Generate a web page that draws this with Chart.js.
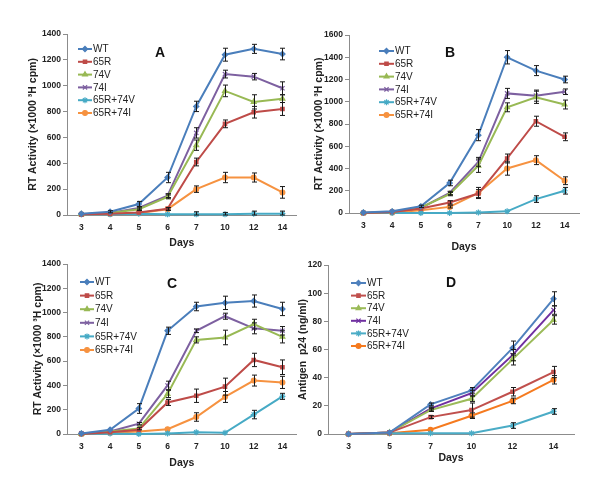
<!DOCTYPE html>
<html>
<head>
<meta charset="utf-8">
<script src="https://cdn.jsdelivr.net/npm/chart.js@4.4.0/dist/chart.umd.min.js"></script>
<style>
body { margin: 0; background: #fff; }
#page { position: relative; width: 600px; height: 497px; overflow: hidden; background: #fff; }
.panel { position: absolute; }
</style>
</head>
<body>
<div id="page">
	<div class="panel" style="left:0px;top:0px"><canvas id="chartA" width="302" height="250"></canvas></div>
	<div class="panel" style="left:300px;top:0px"><canvas id="chartB" width="300" height="255"></canvas></div>
	<div class="panel" style="left:0px;top:245px"><canvas id="chartC" width="302" height="230"></canvas></div>
	<div class="panel" style="left:295px;top:245px"><canvas id="chartD" width="300" height="230"></canvas></div>
</div>
<script>
// categories
const daysRT = ["3", "4", "5", "6", "7", "10", "12", "14"];
const daysP24 = ["3", "5", "7", "10", "12", "14"];
const seriesNames = ["WT", "65R", "74V", "74I", "65R+74V", "65R+74I"];

// panel A - RT activity
const aWT = [10, 25, 85, 290, 840, 1240, 1285, 1245];
const a65R = [5, 10, 20, 48, 410, 705, 795, 820];
const a74V = [5, 15, 45, 140, 540, 960, 875, 900];
const a74I = [5, 15, 55, 150, 635, 1090, 1070, 980];
const a65R74V = [5, 5, 10, 5, 5, 5, 10, 10];
const a65R74I = [5, 8, 15, 45, 200, 290, 290, 175];
const aWTErr = [5, 8, 20, 40, 40, 50, 35, 45];
const a65RErr = [3, 5, 5, 10, 30, 30, 45, 50];
const a74VErr = [3, 5, 10, 15, 40, 45, 55, 30];
const a74IErr = [3, 5, 10, 15, 40, 30, 25, 50];
const a65R74VErr = [3, 3, 5, 5, 20, 15, 20, 20];
const a65R74IErr = [3, 3, 5, 10, 25, 40, 35, 45];

// panel B - RT activity
const bWT = [5, 15, 60, 270, 700, 1400, 1280, 1200];
const b65R = [0, 10, 40, 95, 175, 490, 825, 685];
const b74V = [0, 10, 50, 170, 425, 950, 1040, 975];
const b74I = [0, 10, 45, 180, 460, 1075, 1055, 1090];
const b65R74V = [0, 0, 0, 0, 5, 15, 125, 200];
const b65R74I = [0, 5, 25, 55, 180, 400, 475, 290];
const bWTErr = [3, 5, 10, 25, 50, 60, 45, 30];
const b65RErr = [3, 5, 8, 15, 35, 40, 45, 35];
const b74VErr = [3, 5, 8, 15, 60, 40, 55, 40];
const b74IErr = [3, 5, 8, 15, 40, 45, 50, 25];
const b65R74VErr = [2, 2, 2, 2, 5, 5, 30, 30];
const b65R74IErr = [2, 3, 5, 10, 50, 60, 40, 35];

// panel C - RT activity
const cWT = [5, 35, 210, 850, 1050, 1080, 1095, 1030];
const c65R = [0, 15, 35, 260, 315, 390, 610, 550];
const c74V = [0, 20, 45, 330, 775, 795, 905, 800];
const c74I = [5, 20, 85, 400, 850, 970, 870, 850];
const c65R74V = [0, 5, 0, 5, 15, 10, 160, 310];
const c65R74I = [0, 10, 20, 40, 140, 305, 440, 425];
const cWTErr = [5, 8, 40, 30, 35, 55, 50, 55];
const c65RErr = [3, 5, 8, 25, 55, 70, 55, 60];
const c74VErr = [3, 5, 10, 30, 25, 60, 40, 50];
const c74IErr = [3, 5, 10, 35, 15, 25, 45, 35];
const c65R74VErr = [2, 2, 2, 3, 5, 5, 35, 25];
const c65R74IErr = [2, 3, 5, 8, 35, 45, 45, 50];

// panel D - antigen p24
const dWT = [0, 1, 21, 31, 61, 96];
const d65R = [0, 1, 12, 17, 30, 44];
const d74V = [0, 1, 17, 25, 53, 81];
const d74I = [0, 1, 18, 29, 56, 88];
const d65R74V = [0, 0.5, 0.5, 0.5, 6, 16];
const d65R74I = [0, 0.5, 3, 13, 23.5, 38.5];
const dWTErr = [0.3, 0.5, 1, 2, 5, 5];
const d65RErr = [0.3, 0.5, 1, 5, 3, 4];
const d74VErr = [0.3, 0.5, 1, 2, 4, 3];
const d74IErr = [0.3, 0.5, 1, 2, 4, 3];
const d65R74VErr = [0.2, 0.2, 0.3, 0.5, 2, 2];
const d65R74IErr = [0.2, 0.3, 0.5, 2, 2, 3];

const rtColors = ["#4A7EBB", "#BE4B48", "#98B954", "#7D60A0", "#46AAC5", "#F69240"];
const p24Colors = ["#4F81BD", "#C0504D", "#9BBB59", "#7030A0", "#4BACC6", "#F57A1F"];
const markers = ["rectRot", "rect", "triangle", "crossRot", "star", "circle"];
const markerSizes = [2.6, 2.4, 2.8, 3, 3, 2.4];

const FONT = "'Liberation Sans', Arial, sans-serif";
const LEGEND_FONT = "'Liberation Sans Narrow', 'Liberation Sans', Arial, sans-serif";

// draws the error bars from each dataset's err array
const errorBars = {
	id: "errorBars",
	afterDatasetsDraw(chart) {
		const ctx = chart.ctx;
		const yScale = chart.scales.y;
		ctx.save();
		ctx.strokeStyle = "#1a1a1a";
		ctx.lineWidth = 1;
		chart.data.datasets.forEach((ds, i) => {
			const meta = chart.getDatasetMeta(i);
			meta.data.forEach((pt, j) => {
				const v = ds.data[j];
				const e = ds.err[j];
				const yTop = yScale.getPixelForValue(v + e);
				const yBot = yScale.getPixelForValue(Math.max(v - e, yScale.min));
				if (yBot - yTop < 2) return;
				const x = Math.round(pt.x) + 0.5;
				ctx.beginPath();
				ctx.moveTo(x, yTop);
				ctx.lineTo(x, yBot);
				ctx.moveTo(x - 2.5, yTop);
				ctx.lineTo(x + 2.5, yTop);
				ctx.moveTo(x - 2.5, yBot);
				ctx.lineTo(x + 2.5, yBot);
				ctx.stroke();
			});
		});
		ctx.restore();
	},
};

// legend inside the plot, plus the panel letter
const insideLegend = {
	id: "insideLegend",
	afterDraw(chart, args, opts) {
		const ctx = chart.ctx;
		const area = chart.chartArea;
		ctx.save();
		chart.data.datasets.forEach((ds, i) => {
			const y = area.top + opts.top + i * opts.step;
			const x0 = area.left + opts.left;
			const x1 = x0 + opts.len;
			ctx.strokeStyle = ds.borderColor;
			ctx.fillStyle = ds.borderColor;
			ctx.lineWidth = 2;
			ctx.beginPath();
			ctx.moveTo(x0, y);
			ctx.lineTo(x1, y);
			ctx.stroke();
			ctx.lineWidth = 1.2;
			Chart.helpers.drawPoint(ctx, { pointStyle: ds.pointStyle, radius: ds.pointRadius, rotation: 0, borderWidth: 1.2 }, (x0 + x1) / 2, y);
			ctx.fillStyle = "#222";
			ctx.font = "10px " + LEGEND_FONT;
			ctx.textBaseline = "middle";
			ctx.textAlign = "left";
			ctx.fillText(ds.label, x1 + 1, y + 0.5);
		});
		ctx.fillStyle = "#111";
		ctx.font = "bold 14px " + FONT;
		ctx.textAlign = "center";
		ctx.textBaseline = "middle";
		ctx.fillText(opts.letter, area.left + opts.letterX, area.top + opts.letterY);
		ctx.restore();
	},
};

function makePanel(canvasId, labels, values, errs, colors, yMax, step, yTitle, box) {
	const datasets = values.map((vals, i) => ({
		label: seriesNames[i],
		data: vals,
		err: errs[i],
		borderColor: colors[i],
		backgroundColor: colors[i],
		pointBackgroundColor: colors[i],
		pointBorderColor: colors[i],
		pointStyle: markers[i],
		pointRadius: markerSizes[i],
		pointBorderWidth: 1.2,
		borderWidth: 2,
		tension: 0,
		fill: false,
		clip: false,
	}));
	new Chart(canvasId, {
		type: "line",
		data: { labels: labels, datasets: datasets },
		options: {
			responsive: false,
			animation: false,
			layout: { padding: { left: 0, right: box.right, top: box.top, bottom: 0 } },
			plugins: {
				legend: { display: false },
				tooltip: { enabled: false },
				insideLegend: box.legend,
			},
			scales: {
				x: {
					offset: true,
					grid: { display: false, drawTicks: false },
					border: { color: "#8c8c8c", width: 1 },
					ticks: { color: "#222", font: { family: FONT, size: 8.5, weight: "bold" }, padding: 8, maxRotation: 0, autoSkip: false },
					title: { display: true, text: "Days", color: "#222", font: { family: FONT, size: 10.5, weight: "bold" }, padding: { top: 0, bottom: box.daysPad } },
					afterFit: (scale) => { scale.height = box.xHeight; },
				},
				y: {
					min: 0,
					max: yMax,
					ticks: { stepSize: step, color: "#222", font: { family: FONT, size: 8.5, weight: "bold" }, padding: 2, callback: (v) => String(v) },
					grid: { drawOnChartArea: false, drawTicks: true, tickLength: 4, color: "#8c8c8c" },
					border: { color: "#8c8c8c", width: 1 },
					title: { display: true, text: yTitle, color: "#222", font: { family: FONT, size: 10.5, weight: "bold" }, padding: { top: box.titlePad, bottom: 0 } },
					afterFit: (scale) => { scale.width = box.yWidth; },
				},
			},
		},
		plugins: [errorBars, insideLegend],
	});
}

const rtTitle = "RT Activity (\u00d71000 \u00b3H cpm)";

makePanel("chartA", daysRT,
	[aWT, a65R, a74V, a74I, a65R74V, a65R74I],
	[aWTErr, a65RErr, a74VErr, a74IErr, a65R74VErr, a65R74IErr],
	rtColors, 1400, 200, rtTitle,
	{ right: 2, top: 34, yWidth: 67, xHeight: 35, daysPad: 1, titlePad: 27,
		legend: { left: 11, top: 15, step: 12.8, len: 14, letter: "A", letterX: 93, letterY: 19 } });

makePanel("chartB", daysRT,
	[bWT, b65R, b74V, b74I, b65R74V, b65R74I],
	[bWTErr, b65RErr, b74VErr, b74IErr, b65R74VErr, b65R74IErr],
	rtColors, 1600, 200, rtTitle,
	{ right: 21, top: 35, yWidth: 49, xHeight: 42, daysPad: 2, titlePad: 13,
		legend: { left: 30, top: 16, step: 12.8, len: 15, letter: "B", letterX: 101, letterY: 18 } });

makePanel("chartC", daysRT,
	[cWT, c65R, c74V, c74I, c65R74V, c65R74I],
	[cWTErr, c65RErr, c74VErr, c74IErr, c65R74VErr, c65R74IErr],
	rtColors, 1400, 200, rtTitle,
	{ right: 4, top: 19, yWidth: 67, xHeight: 41, daysPad: 6, titlePad: 32,
		legend: { left: 13, top: 18, step: 13.6, len: 14, letter: "C", letterX: 105, letterY: 20 } });

makePanel("chartD", daysP24,
	[dWT, d65R, d74V, d74I, d65R74V, d65R74I],
	[dWTErr, d65RErr, d74VErr, d74IErr, d65R74VErr, d65R74IErr],
	p24Colors, 120, 20, "Antigen  p24 (ng/ml)",
	{ right: 21, top: 20, yWidth: 33, xHeight: 41, daysPad: 11, titlePad: 2,
		legend: { left: 23, top: 18, step: 12.6, len: 15, letter: "D", letterX: 123, letterY: 18 } });
</script>
</body>
</html>
